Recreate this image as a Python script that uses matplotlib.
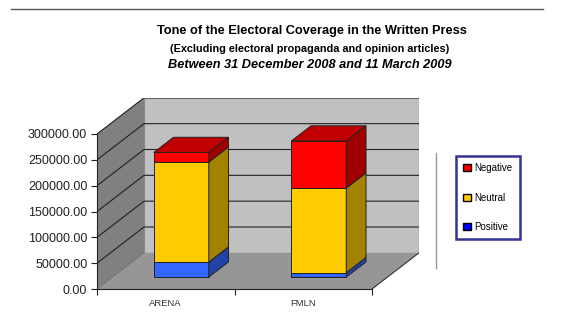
import matplotlib
matplotlib.use("Agg")
import matplotlib.pyplot as plt
from matplotlib.patches import Polygon, Patch
from matplotlib.lines import Line2D

# data
categories = ["ARENA", "FMLN"]
positive = [29000, 8500]
neutral = [193600, 163800]
negative = [18600, 91000]
y_ticks = [0, 50000, 100000, 150000, 200000, 250000, 300000]

plt.rcParams["font.family"] = ["Liberation Sans", "DejaVu Sans"]

W, H = 572, 336
fig = plt.figure(figsize=(W / 100, H / 100), dpi=100)

# oblique depth offset (category units / value units)
DX = 0.342
DY = 70000
YMAX = 300000
n = len(categories)

# axes placed so that (0, 0) -> px (97, 289)
px_cat = 137.5
px_val = 155 / YMAX
x0, y0 = 97, 289
wpx = (n + DX) * px_cat
hpx = (YMAX + DY) * px_val
ax = fig.add_axes([x0 / W, (H - y0) / H, wpx / W, hpx / H])
ax.set_xlim(0, n + DX)
ax.set_ylim(0, YMAX + DY)
ax.patch.set_visible(False)

# walls
ax.add_patch(Polygon([(0, 0), (DX, DY), (DX, YMAX + DY), (0, YMAX)],
                     closed=True, fc="#808080", ec="none", zorder=1))
ax.add_patch(Polygon([(DX, DY), (n + DX, DY), (n + DX, YMAX + DY), (DX, YMAX + DY)],
                     closed=True, fc="#c0c0c0", ec="#8a8a8a", lw=0.8, zorder=1))
for v in y_ticks[1:]:
    ax.plot([0, DX, n + DX], [v, v + DY, v + DY], color="#222222", lw=0.8, zorder=2)
ax.add_patch(Polygon([(0, 0), (n, 0), (n + DX, DY), (DX, DY)],
                     closed=True, fc="#969696", ec="none", zorder=3))
ax.plot([n, n + DX], [0, DY], color="#333333", lw=0.8, zorder=3)
ax.plot([0, DX], [0, DY], color="#666666", lw=0.5, zorder=3)

# bars
d0, d1 = 0.33, 0.75
hw = 0.2
segs = [
    (positive, "#3366ff", "#2143a8"),
    (neutral, "#ffcc00", "#a38200"),
    (negative, "#ff0000", "#a00000"),
]
top_col = "#c00000"
edge = dict(ec="#222222", lw=0.7, zorder=5)
for i in range(n):
    c = i + 0.5
    base = 0
    for vals, front, side in segs:
        b, t = base, base + vals[i]
        xl = c - hw + d0 * DX
        xr = c + hw + d0 * DX
        xr1 = c + hw + d1 * DX
        ax.add_patch(Polygon([(xl, b + d0 * DY), (xr, b + d0 * DY),
                              (xr, t + d0 * DY), (xl, t + d0 * DY)],
                             closed=True, fc=front, **edge))
        ax.add_patch(Polygon([(xr, b + d0 * DY), (xr1, b + d1 * DY),
                              (xr1, t + d1 * DY), (xr, t + d0 * DY)],
                             closed=True, fc=side, **edge))
        base = t
    xl1 = c - hw + d1 * DX
    ax.add_patch(Polygon([(c - hw + d0 * DX, base + d0 * DY), (c + hw + d0 * DX, base + d0 * DY),
                          (c + hw + d1 * DX, base + d1 * DY), (xl1, base + d1 * DY)],
                         closed=True, fc=top_col, **edge))

# axes, ticks
for s in ["top", "right"]:
    ax.spines[s].set_visible(False)
ax.spines["left"].set_bounds(0, YMAX)
ax.spines["bottom"].set_bounds(0, n)
ax.spines["left"].set_color("#222222")
ax.spines["bottom"].set_color("#222222")
ax.spines["left"].set_zorder(4)
ax.spines["bottom"].set_zorder(4)
ax.set_yticks(y_ticks)
ax.set_yticklabels([f"{v:.2f}" for v in y_ticks])
ax.tick_params(axis="y", length=4, width=0.8, color="#222222", labelsize=9,
               labelcolor="#222222", pad=3)
ax.set_xticks(range(n + 1))
ax.set_xticklabels([])
ax.tick_params(axis="x", which="major", length=4, width=0.8, color="#222222")
ax.set_xticks([i + 0.5 for i in range(n)], minor=True)
ax.set_xticklabels(categories, minor=True)
ax.tick_params(axis="x", which="minor", length=0, labelsize=6.8,
               labelcolor="#333333", pad=7)

# titles
fig.text(312 / W, 1 - 31 / H, "Tone of the Electoral Coverage in the Written Press",
         ha="center", va="center", fontsize=9.2, fontweight="bold")
fig.text(310 / W, 1 - 49 / H, "(Excluding electoral propaganda and opinion articles)",
         ha="center", va="center", fontsize=7.85, fontweight="bold")
fig.text(310 / W, 1 - 65 / H, "Between 31 December 2008 and 11 March 2009",
         ha="center", va="center", fontsize=9.2, fontweight="bold", style="italic")

# decorative lines
fig.add_artist(Line2D([11 / W, 543 / W], [1 - 9 / H, 1 - 9 / H], color="#555555", lw=1))
fig.add_artist(Line2D([436 / W, 436 / W], [1 - 153 / H, 1 - 268 / H], color="#999999", lw=1))

# legend
handles = [Patch(fc="#ff0000", ec="#000000", lw=1),
           Patch(fc="#ffcc00", ec="#000000", lw=1),
           Patch(fc="#0000ff", ec="#000000", lw=1)]
leg = fig.legend(handles, ["Negative", "Neutral", "Positive"], loc="upper left",
                 bbox_to_anchor=(456 / W, 1 - 156 / H), borderaxespad=0,
                 fontsize=7, handlelength=0.75, handleheight=0.75, handletextpad=0.4,
                 labelspacing=2.0, borderpad=0.75, fancybox=False, framealpha=1)
leg.get_frame().set_edgecolor("#333399")
leg.get_frame().set_linewidth(1.8)

fig.savefig("out.png", dpi=100)
